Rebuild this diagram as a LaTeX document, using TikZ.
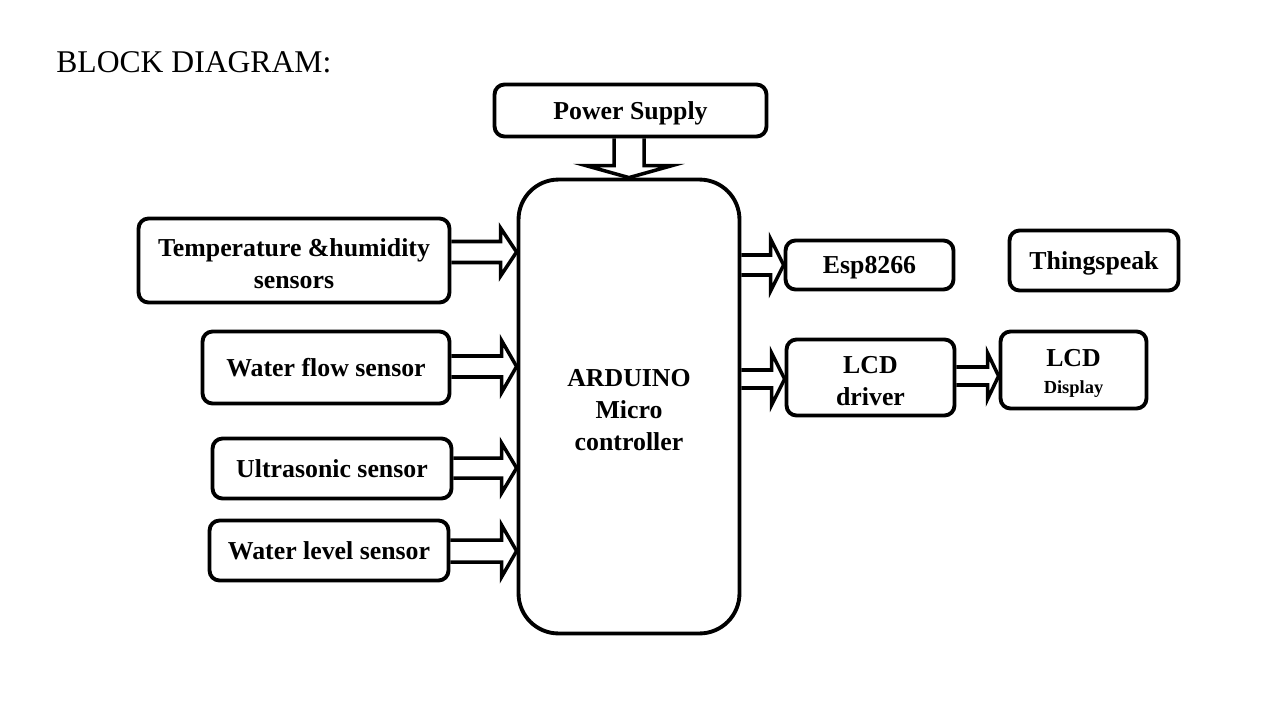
\documentclass[tikz,border=0pt]{standalone}
\usepackage{fontspec}
\setmainfont{Liberation Serif}
\usetikzlibrary{calc}
\newcommand{\boxstrut}{\rule[-3.7pt]{0pt}{17.6pt}}
\newcommand{\topstrut}{\rule{0pt}{13.6pt}}
\tikzset{
  mbox/.style={draw, line width=2.2pt, rounded corners=0.2cm, inner sep=0pt, align=center,
    font=\bfseries\fontsize{14.7}{18.3}\selectfont},
  box/.style={mbox, execute at begin node=\boxstrut},
  blockarr/.style={line width=2pt, line join=miter},
}
% #1 source node, #2 tip coordinate, #3 shaft half width, #4 head half width, #5 head length (px)
\newcommand{\rblock}[5]{%
  \coordinate (rbS) at (#1.east |- #2);
  \draw[blockarr] ($(rbS)+(0,-#3)$) -- ($(#2)+(-#5,-#3)$) -- ($(#2)+(-#5,-#4)$) -- (#2)
    -- ($(#2)+(-#5,#4)$) -- ($(#2)+(-#5,#3)$) -- ($(rbS)+(0,#3)$);
}
\begin{document}
\begin{tikzpicture}[x=0.02cm, y=-0.02cm]
\useasboundingbox (0,0) rectangle (1280,720);

\node[anchor=west, inner sep=0pt, font=\fontsize{18}{21}\selectfont] (title) at (56,62) {BLOCK DIAGRAM:};

\node[box, minimum width=5.44cm, minimum height=1.04cm] (pow) at (630.5,110.5) {Power Supply};
\node[mbox, rounded corners=0.8cm, minimum width=4.42cm, minimum height=9.08cm] (ard) at (629,406.5) {\topstrut ARDUINO\\Micro\\controller};
\node[mbox, minimum width=6.22cm, minimum height=1.68cm] (temp) at (294,260.5) {\topstrut Temperature \&humidity\\sensors};
\node[box, minimum width=4.94cm, minimum height=1.44cm] (flow) at (326,367.5) {Water flow sensor};
\node[box, minimum width=4.78cm, minimum height=1.2cm] (ultra) at (332,468.5) {Ultrasonic sensor};
\node[box, minimum width=4.78cm, minimum height=1.2cm] (level) at (329,550.5) {Water level sensor};
\node[box, minimum width=3.36cm, minimum height=0.98cm] (esp) at (869.5,265) {Esp8266};
\node[box, minimum width=3.38cm, minimum height=1.2cm] (thing) at (1094,260.5) {Thingspeak};
\node[mbox, minimum width=3.36cm, minimum height=1.52cm] (drv) at (870.5,377.5) {\topstrut LCD\\driver};
\node[mbox, minimum width=2.92cm, minimum height=1.54cm] (disp) at (1073.5,370) {\topstrut LCD\\[-3pt]{\fontsize{10.5}{12}\selectfont Display}};

% tips
\coordinate (t1) at (ard.west |- 0,252);
\coordinate (t2) at (ard.west |- 0,366.5);
\coordinate (t3) at (ard.west |- 0,468);
\coordinate (t4) at (ard.west |- 0,551);
\coordinate (t5) at (esp.west |- 0,265);
\coordinate (t6) at (drv.west |- 0,379);
\coordinate (t7) at (disp.west |- 0,376);

\rblock{temp}{t1}{10.5}{24}{16}
\rblock{flow}{t2}{10.5}{26}{15}
\rblock{ultra}{t3}{10}{25}{15}
\rblock{level}{t4}{11}{26}{15}
\rblock{ard}{t5}{10}{26}{13}
\rblock{ard}{t6}{9}{26}{13}
\rblock{drv}{t7}{9}{23}{11}

% power arrow (vertical)
\coordinate (pt) at (ard.north);
\coordinate (ps) at (pow.south -| pt);
\draw[blockarr] ($(ps)+(-15,0)$) -- ($(pt)+(-15,-12)$) -- ($(pt)+(-43,-12)$) -- (pt)
  -- ($(pt)+(43,-12)$) -- ($(pt)+(15,-12)$) -- ($(ps)+(15,0)$);
\end{tikzpicture}
\end{document}
